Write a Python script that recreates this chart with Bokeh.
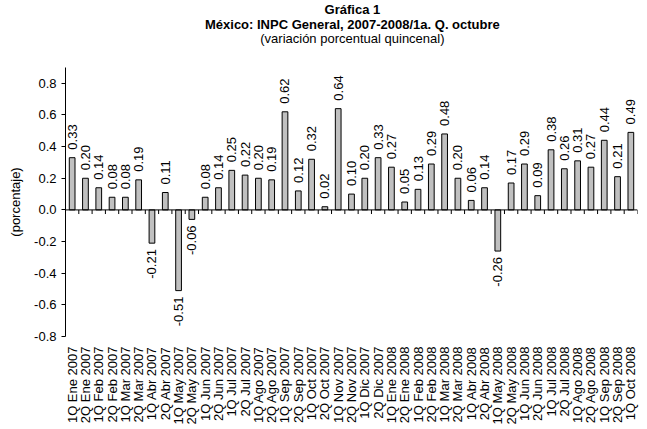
import math
from bokeh.plotting import figure
from bokeh.layouts import column
from bokeh.models import (FactorRange, Range1d, FixedTicker, NumeralTickFormatter, Span)
from bokeh.core.properties import value
from bokeh.embed import file_html
from bokeh.resources import INLINE

# ---- data ----
periods = [
    "1Q Ene 2007", "2Q Ene 2007", "1Q Feb 2007", "2Q Feb 2007", "1Q Mar 2007", "2Q Mar 2007",
    "1Q Abr 2007", "2Q Abr 2007", "1Q May 2007", "2Q May 2007", "1Q Jun 2007", "2Q Jun 2007",
    "1Q Jul 2007", "2Q Jul 2007", "1Q Ago 2007", "2Q Ago 2007", "1Q Sep 2007", "2Q Sep 2007",
    "1Q Oct 2007", "2Q Oct 2007", "1Q Nov 2007", "2Q Nov 2007", "1Q Dic 2007", "2Q Dic 2007",
    "1Q Ene 2008", "2Q Ene 2008", "1Q Feb 2008", "2Q Feb 2008", "1Q Mar 2008", "2Q Mar 2008",
    "1Q Abr 2008", "2Q Abr 2008", "1Q May 2008", "2Q May 2008", "1Q Jun 2008", "2Q Jun 2008",
    "1Q Jul 2008", "2Q Jul 2008", "1Q Ago 2008", "2Q Ago 2008", "1Q Sep 2008", "2Q Sep 2008",
    "1Q Oct 2008",
]
values = [
    0.33, 0.20, 0.14, 0.08, 0.08, 0.19, -0.21, 0.11, -0.51, -0.06, 0.08, 0.14,
    0.25, 0.22, 0.20, 0.19, 0.62, 0.12, 0.32, 0.02, 0.64, 0.10, 0.20, 0.33,
    0.27, 0.05, 0.13, 0.29, 0.48, 0.20, 0.06, 0.14, -0.26, 0.17, 0.29, 0.09,
    0.38, 0.26, 0.31, 0.27, 0.44, 0.21, 0.49,
]
y_ticks = [-0.8, -0.6, -0.4, -0.2, 0.0, 0.2, 0.4, 0.6, 0.8]
title_1 = "Gráfica 1"
title_2 = "México: INPC General, 2007-2008/1a. Q. octubre"
title_3 = "(variación porcentual quincenal)"
y_label = "(porcentaje)"

FONT = "Liberation Sans"
FS = "13px"

W = 647
HT = 50          # title strip height
HM = 429 - HT    # main chart height

# ---- title strip ----
pt = figure(width=W, height=HT, x_range=Range1d(0, W), y_range=Range1d(HT, 0),
            output_backend="svg", toolbar_location=None, min_border=0)
pt.axis.visible = False
pt.xgrid.grid_line_color = None
pt.ygrid.grid_line_color = None
pt.outline_line_color = None
for txt, style, yy in [(title_1, "bold", 9), (title_2, "bold", 23.5), (title_3, "normal", 38)]:
    pt.text(x=[W / 2 + 1], y=[yy], text=[txt], text_align="center", text_baseline="middle",
            text_font=value(FONT), text_font_size=value(FS),
            text_font_style=style, text_color="black")

pos_x = [p for p, v in zip(periods, values) if v >= 0]
pos_v = [v for v in values if v >= 0]
neg_x = [p for p, v in zip(periods, values) if v < 0]
neg_v = [v for v in values if v < 0]

# ---- main chart ----
p = figure(width=W, height=HM, x_range=FactorRange(factors=periods),
           y_range=Range1d(-0.8, 0.9), output_backend="svg", toolbar_location=None,
           min_border_left=65, min_border_right=10, min_border_top=67 - HT,
           min_border_bottom=93)
p.outline_line_color = None
p.xgrid.grid_line_color = None
p.ygrid.grid_line_color = None
p.background_fill_color = "white"
p.border_fill_color = "white"

# bars
p.vbar(x=periods, top=values, bottom=0, width=0.43, fill_color="#C0C0C0",
       line_color="black", line_width=1)

# zero line with category boundary ticks
p.add_layout(Span(location=0, dimension="width", line_color="black", line_width=1))
bounds = list(range(1, len(periods) + 1))
p.segment(x0=bounds, x1=bounds, y0=[0] * len(bounds), y1=[-0.026] * len(bounds),
          line_color="black", line_width=1)

# value labels
p.text(x=pos_x, y=pos_v, text=["%.2f" % v for v in pos_v], angle=math.pi / 2,
       text_align="left", text_baseline="middle", y_offset=-8,
       text_font=value(FONT), text_font_size=value(FS), text_color="black")
p.text(x=neg_x, y=neg_v, text=["%.2f" % v for v in neg_v], angle=math.pi / 2,
       text_align="right", text_baseline="middle", y_offset=6,
       text_font=value(FONT), text_font_size=value(FS), text_color="black")

# axes
xa = p.xaxis[0]
xa.axis_line_color = None
xa.major_tick_line_color = None
xa.minor_tick_line_color = None
xa.major_tick_out = 0
xa.major_tick_in = 0
xa.major_label_orientation = math.pi / 2
xa.major_label_standoff = 10
xa.major_label_text_font = FONT
xa.major_label_text_font_size = FS
xa.major_label_text_color = "black"

ya = p.yaxis[0]
ya.ticker = FixedTicker(ticks=y_ticks)
ya.formatter = NumeralTickFormatter(format="0.0")
ya.axis_line_color = "black"
ya.major_tick_line_color = "black"
ya.major_tick_in = 0
ya.major_tick_out = 4
ya.minor_tick_line_color = None
ya.major_label_standoff = 5
ya.major_label_text_font = FONT
ya.major_label_text_font_size = FS
ya.major_label_text_color = "black"
ya.axis_label = y_label
ya.axis_label_text_font = FONT
ya.axis_label_text_font_size = FS
ya.axis_label_text_font_style = "normal"
ya.axis_label_text_color = "black"
ya.axis_label_standoff = 8

layout = column(pt, p, spacing=0)
open("out.html", "w").write(file_html(layout, INLINE))
